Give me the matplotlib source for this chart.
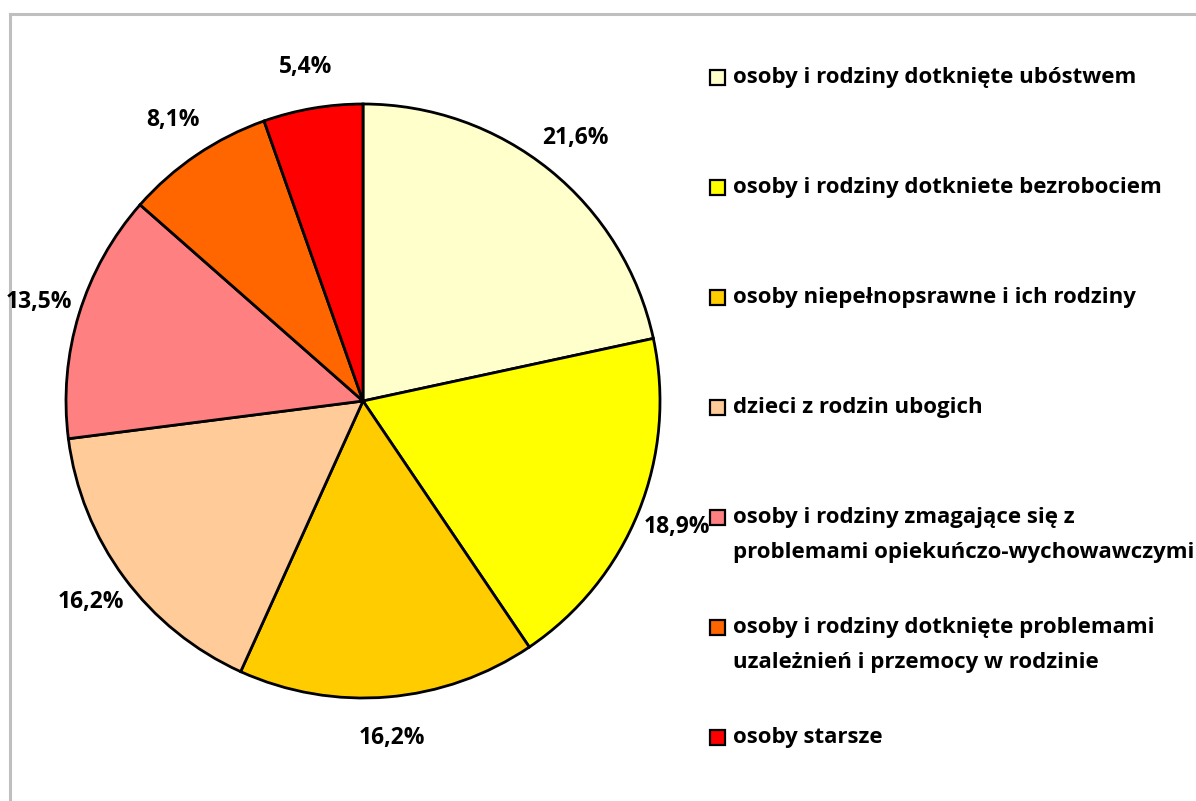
import matplotlib
matplotlib.use("Agg")
import matplotlib.pyplot as plt
from matplotlib.patches import Rectangle

plt.rcParams['font.family'] = ['Open Sans', 'DejaVu Sans']

categories = [
    "osoby i rodziny dotknięte ubóstwem",
    "osoby i rodziny dotkniete bezrobociem",
    "osoby niepełnopsrawne i ich rodziny",
    "dzieci z rodzin ubogich",
    "osoby i rodziny zmagające się z\nproblemami opiekuńczo-wychowawczymi",
    "osoby i rodziny dotknięte problemami\nuzależnień i przemocy w rodzinie",
    "osoby starsze",
]
counts = [8, 7, 6, 6, 5, 3, 2]
colors = ["#FFFFCC", "#FFFF00", "#FFCC00", "#FFCC99", "#FF8080", "#FF6600", "#FF0000"]

W, H = 1196, 801
fig = plt.figure(figsize=(W / 100, H / 100), dpi=100)

# gray frame (only top and left edges are visible in the crop)
fig.add_artist(plt.Line2D([10 / W, 1.0], [1 - 14 / H, 1 - 14 / H], color="#BFBFBF", lw=2.2, zorder=-1))
fig.add_artist(plt.Line2D([10 / W, 10 / W], [0, 1 - 14 / H], color="#BFBFBF", lw=2.2, zorder=-1))

# pie: center (363, 401), radius 297 px
cx, cy, r = 363, 401, 297
ax = fig.add_axes([(cx - r) / W, (H - cy - r) / H, 2 * r / W, 2 * r / H])
wedges, texts, autotexts = ax.pie(
    counts, colors=colors, startangle=90, counterclock=False,
    autopct=lambda p: f"{p:.1f}%".replace(".", ","), pctdistance=1.14,
    wedgeprops=dict(edgecolor="black", linewidth=2),
    textprops=dict(fontsize=16.5, fontweight="bold", color="black"))
ax.set_xlim(-1, 1)
ax.set_ylim(-1, 1)
ax.set_aspect("equal")
ax.axis("off")

# legend
for i, (lab, col) in enumerate(zip(categories, colors)):
    y = 77 + 110 * i
    fig.add_artist(Rectangle((710 / W, 1 - (y + 8) / H), 15 / W, 15 / H,
                             facecolor=col, edgecolor="black", lw=1.6,
                             transform=fig.transFigure))
    fig.text(733 / W, 1 - (y - 10) / H, lab, fontsize=16, fontweight="bold",
             va="top", ha="left", linespacing=1.9)

fig.savefig("out.png", dpi=100)
